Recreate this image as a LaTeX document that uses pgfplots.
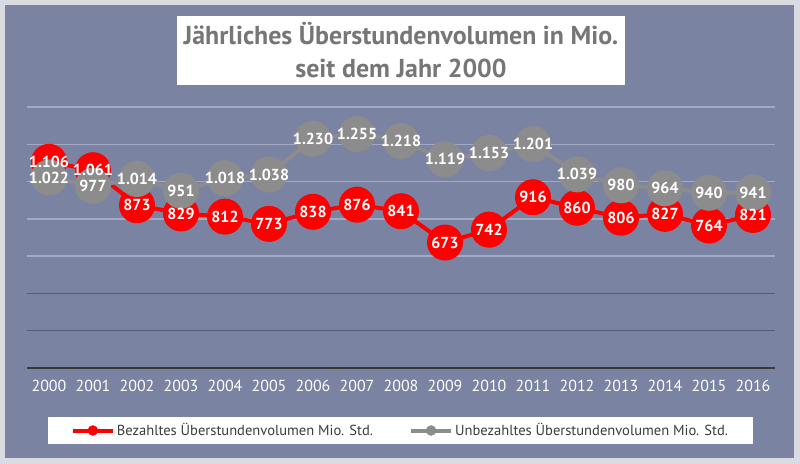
\documentclass[border=0pt]{standalone}
\usepackage{fontspec}
\setmainfont{PT Sans}
\usepackage{pgfplots}
\usepackage{pgfplotstable}
\pgfplotsset{compat=1.18}
\definecolor{bgslate}{RGB}{123,131,162}
\definecolor{framec}{RGB}{218,219,224}
\definecolor{gridlight}{RGB}{162,169,194}
\definecolor{griddark}{RGB}{86,93,120}
\definecolor{serred}{RGB}{255,0,0}
\definecolor{sergray}{RGB}{140,140,140}
\definecolor{titlegray}{RGB}{118,118,118}
\definecolor{legtext}{RGB}{60,60,60}
\pgfplotstableread{
x paid unpaid
0 1106 1022
1 1061 977
2 873 1014
3 829 951
4 812 1018
5 773 1038
6 838 1230
7 876 1255
8 841 1218
9 673 1119
10 742 1153
11 916 1201
12 860 1039
13 806 980
14 827 964
15 764 940
16 821 941
}\datatable
\begin{document}
\begin{tikzpicture}
\fill[framec] (0,0) rectangle (800bp,464bp);
\fill[bgslate] (5bp,6bp) rectangle (794bp,459bp);
\fill[white] (177bp,379bp) rectangle (625bp,448bp);
\node[text=titlegray, align=center, font=\fontsize{26}{33}\selectfont\bfseries] at (401bp,413.5bp) {Jährliches Überstundenvolumen in Mio.\\seit dem Jahr 2000};
\begin{axis}[
  at={(27bp,96bp)}, anchor=south west, scale only axis,
  width=748bp, height=261bp,
  xmin=-0.5, xmax=16.5, ymin=0, ymax=1400,
  axis x line*=bottom, axis y line*=left,
  x axis line style={draw=black!78, line width=2.5bp, -},
  y axis line style={draw=none},
  xtick={0,...,16},
  xticklabels={2000,2001,2002,2003,2004,2005,2006,2007,2008,2009,2010,2011,2012,2013,2014,2015,2016},
  major tick length=0,
  xticklabel style={text=white, font=\fontsize{16}{16}\selectfont, yshift=-9bp},
  ytick={600,800,1000,1200,1400}, yticklabels={},
  ymajorgrids, major grid style={gridlight, line width=1.5bp},
  extra y ticks={200,400}, extra y tick labels={},
  extra y tick style={grid=major, major grid style={griddark, line width=1.5bp}},
  clip=false,
  /pgf/number format/.cd, fixed, precision=0, 1000 sep={.}, assume math mode=true,
  /pgfplots/.cd,
  legend columns=2,
  legend cell align=left,
  legend style={at={(0.4993,-0.2395)}, anchor=center, draw=none, fill=white,
    font=\fontsize{14.6}{15}\selectfont, text=legtext,
    inner xsep=23bp, inner ysep=5bp,
    /tikz/every even column/.append style={column sep=34bp}},
]
\addplot[serred, line width=4bp, mark=*, mark size=16bp, mark options={fill=serred, draw=none}, forget plot] table[x=x,y=paid]{\datatable};
\addplot[sergray, line width=4bp, mark=*, mark size=16bp, mark options={fill=sergray, draw=none}, forget plot] table[x=x,y=unpaid]{\datatable};
\addplot[draw=none, mark=none, forget plot, nodes near coords, point meta=explicit,
  every node near coord/.append style={anchor=center, text=white, font=\fontsize{16}{16}\selectfont\bfseries}]
  table[x=x,y=paid,meta=paid]{\datatable};
\addplot[draw=none, mark=none, forget plot, nodes near coords, point meta=explicit,
  every node near coord/.append style={anchor=center, text=white, font=\fontsize{16}{16}\selectfont\bfseries}]
  table[x=x,y=unpaid,meta=unpaid]{\datatable};
\addlegendimage{legend image code/.code={\draw[serred, line width=4bp] (0bp,0bp) -- (40bp,0bp); \fill[serred] (20bp,0bp) circle (5bp);}}
\addlegendentry{Bezahltes Überstundenvolumen Mio. Std.}
\addlegendimage{legend image code/.code={\draw[sergray, line width=4bp] (0bp,0bp) -- (40bp,0bp); \fill[sergray] (20bp,0bp) circle (5bp);}}
\addlegendentry{Unbezahltes Überstundenvolumen Mio. Std.}
\end{axis}
\pgfresetboundingbox
\useasboundingbox (0,0) rectangle (800bp,464bp);
\end{tikzpicture}
\end{document}
